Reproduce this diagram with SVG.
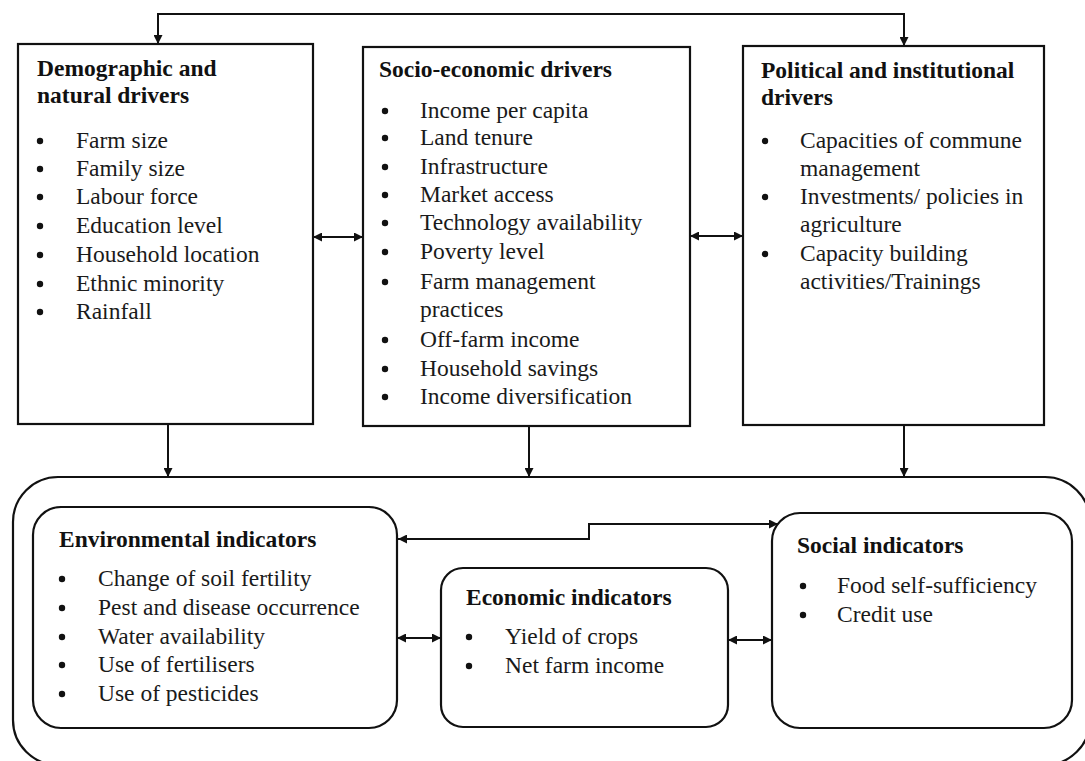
<svg xmlns="http://www.w3.org/2000/svg" width="1085" height="761" viewBox="0 0 1085 761">
  <defs>
    <marker id="arrow" viewBox="0 0 10 10" refX="10" refY="5" markerWidth="10" markerHeight="9" markerUnits="userSpaceOnUse" orient="auto-start-reverse">
      <path d="M0,0 L10,5 L0,10 Z" fill="#111"/>
    </marker>
    <style>
      .box { fill: #fff; stroke: #111; stroke-width: 2.2; }
      .link { fill: none; stroke: #111; stroke-width: 2; }
      .title { font-family: "Liberation Serif", "Times New Roman", serif; font-size: 23.5px; font-weight: bold; fill: #111; }
      .item { font-family: "Liberation Serif", "Times New Roman", serif; font-size: 23.5px; fill: #1a1a1a; }
      .dot { fill: #111; }
    </style>
  </defs>
  <rect width="1085" height="761" fill="#fff"/>

  <!-- outer frame holding the indicator groups -->
  <g id="indicators-frame">
    <rect class="box" x="13" y="477" width="1077" height="288" rx="45" ry="45"/>
  </g>

  <g id="demographic">
    <rect class="box" x="18" y="44" width="295" height="380"/>
    <text class="title" x="37" y="76">Demographic and</text>
    <text class="title" x="37" y="103">natural drivers</text>
    <g class="dot">
      <circle cx="40" cy="141" r="3.2"/><circle cx="40" cy="169" r="3.2"/><circle cx="40" cy="197" r="3.2"/>
      <circle cx="40" cy="226" r="3.2"/><circle cx="40" cy="255" r="3.2"/><circle cx="40" cy="284" r="3.2"/>
      <circle cx="40" cy="312" r="3.2"/>
    </g>
    <text class="item" x="76" y="148">Farm size</text>
    <text class="item" x="76" y="176">Family size</text>
    <text class="item" x="76" y="204">Labour force</text>
    <text class="item" x="76" y="233">Education level</text>
    <text class="item" x="76" y="262">Household location</text>
    <text class="item" x="76" y="291">Ethnic minority</text>
    <text class="item" x="76" y="319">Rainfall</text>
  </g>

  <g id="socio-economic">
    <rect class="box" x="363" y="47" width="327" height="379"/>
    <text class="title" x="379" y="77">Socio-economic drivers</text>
    <g class="dot">
      <circle cx="385" cy="111" r="3.2"/><circle cx="385" cy="138" r="3.2"/><circle cx="385" cy="167" r="3.2"/>
      <circle cx="385" cy="195" r="3.2"/><circle cx="385" cy="223" r="3.2"/><circle cx="385" cy="252" r="3.2"/>
      <circle cx="385" cy="282" r="3.2"/><circle cx="385" cy="340" r="3.2"/><circle cx="385" cy="369" r="3.2"/>
      <circle cx="385" cy="397" r="3.2"/>
    </g>
    <text class="item" x="420" y="118">Income per capita</text>
    <text class="item" x="420" y="145">Land tenure</text>
    <text class="item" x="420" y="174">Infrastructure</text>
    <text class="item" x="420" y="202">Market access</text>
    <text class="item" x="420" y="230">Technology availability</text>
    <text class="item" x="420" y="259">Poverty level</text>
    <text class="item" x="420" y="289">Farm management</text>
    <text class="item" x="420" y="317">practices</text>
    <text class="item" x="420" y="347">Off-farm income</text>
    <text class="item" x="420" y="376">Household savings</text>
    <text class="item" x="420" y="404">Income diversification</text>
  </g>

  <g id="political">
    <rect class="box" x="743" y="46" width="301" height="379"/>
    <text class="title" x="761" y="78">Political and institutional</text>
    <text class="title" x="761" y="105">drivers</text>
    <g class="dot">
      <circle cx="765" cy="141" r="3.2"/><circle cx="765" cy="197" r="3.2"/><circle cx="765" cy="254" r="3.2"/>
    </g>
    <text class="item" x="800" y="148">Capacities of commune</text>
    <text class="item" x="800" y="176">management</text>
    <text class="item" x="800" y="204">Investments/ policies in</text>
    <text class="item" x="800" y="232">agriculture</text>
    <text class="item" x="800" y="261">Capacity building</text>
    <text class="item" x="800" y="289">activities/Trainings</text>
  </g>

  <g id="environmental">
    <rect class="box" x="33" y="507" width="364" height="221" rx="28" ry="28"/>
    <text class="title" x="59" y="547">Environmental indicators</text>
    <g class="dot">
      <circle cx="62" cy="579" r="3.2"/><circle cx="62" cy="608" r="3.2"/><circle cx="62" cy="637" r="3.2"/>
      <circle cx="62" cy="665" r="3.2"/><circle cx="62" cy="694" r="3.2"/>
    </g>
    <text class="item" x="98" y="586">Change of soil fertility</text>
    <text class="item" x="98" y="615">Pest and disease occurrence</text>
    <text class="item" x="98" y="644">Water availability</text>
    <text class="item" x="98" y="672">Use of fertilisers</text>
    <text class="item" x="98" y="701">Use of pesticides</text>
  </g>

  <g id="economic">
    <rect class="box" x="441" y="568" width="287" height="159" rx="22" ry="22"/>
    <text class="title" x="466" y="605">Economic indicators</text>
    <g class="dot">
      <circle cx="469" cy="637" r="3.2"/><circle cx="469" cy="666" r="3.2"/>
    </g>
    <text class="item" x="505" y="644">Yield of crops</text>
    <text class="item" x="505" y="673">Net farm income</text>
  </g>

  <g id="social">
    <rect class="box" x="772" y="513" width="300" height="215" rx="28" ry="28"/>
    <text class="title" x="797" y="553">Social indicators</text>
    <g class="dot">
      <circle cx="803" cy="586" r="3.2"/><circle cx="803" cy="615" r="3.2"/>
    </g>
    <text class="item" x="837" y="593">Food self-sufficiency</text>
    <text class="item" x="837" y="622">Credit use</text>
  </g>

  <g id="connectors">
    <!-- feedback loop across the top -->
    <path class="link" d="M158,44 V14 H904 V46" marker-start="url(#arrow)" marker-end="url(#arrow)"/>
    <!-- links between driver groups -->
    <line class="link" x1="313" y1="237" x2="363" y2="237" marker-start="url(#arrow)" marker-end="url(#arrow)"/>
    <line class="link" x1="690" y1="236" x2="743" y2="236" marker-start="url(#arrow)" marker-end="url(#arrow)"/>
    <!-- drivers feeding the indicators -->
    <line class="link" x1="168" y1="424" x2="168" y2="477" marker-end="url(#arrow)"/>
    <line class="link" x1="529" y1="426" x2="529" y2="477" marker-end="url(#arrow)"/>
    <line class="link" x1="904" y1="425" x2="904" y2="477" marker-end="url(#arrow)"/>
    <!-- links between indicator groups -->
    <path class="link" d="M398,539 H589 V524 H778" marker-start="url(#arrow)" marker-end="url(#arrow)"/>
    <line class="link" x1="397" y1="638" x2="441" y2="638" marker-start="url(#arrow)" marker-end="url(#arrow)"/>
    <line class="link" x1="728" y1="640" x2="772" y2="640" marker-start="url(#arrow)" marker-end="url(#arrow)"/>
  </g>
</svg>
